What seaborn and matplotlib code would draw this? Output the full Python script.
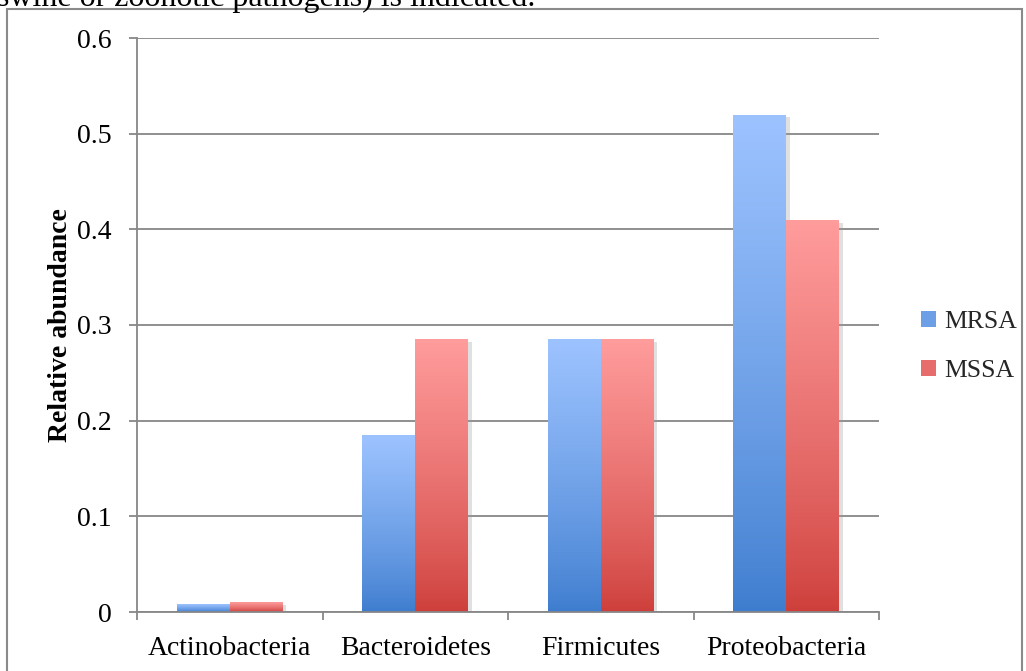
import numpy as np
import pandas as pd
import matplotlib
matplotlib.use("Agg")
import matplotlib.pyplot as plt
import matplotlib.patheffects as pe
from matplotlib.colors import LinearSegmentedColormap
from matplotlib.patches import Rectangle
import seaborn as sns

# Relative abundance of the main phyla by S. aureus group
phyla = ["Actinobacteria", "Bacteroidetes", "Firmicutes", "Proteobacteria"]
groups = ["MRSA", "MSSA"]
mrsa = [0.008, 0.185, 0.285, 0.52]
mssa = [0.010, 0.285, 0.285, 0.41]
yticks = [0, 0.1, 0.2, 0.3, 0.4, 0.5, 0.6]
ytick_labels = ["0", "0.1", "0.2", "0.3", "0.4", "0.5", "0.6"]

df = pd.DataFrame({
    "phylum": phyla * 2,
    "group": [groups[0]] * len(phyla) + [groups[1]] * len(phyla),
    "abundance": mrsa + mssa,
})

# top (light) and bottom (dark) colours of each bar's vertical gradient
grad = {
    "MRSA": ("#9DC3FF", "#3D7CCE"),
    "MSSA": ("#FF9C9C", "#CD3E3A"),
}
mid = {k: LinearSegmentedColormap.from_list(k, v)(0.5) for k, v in grad.items()}

sns.set_theme(style="white")
plt.rcParams["font.family"] = ["Liberation Serif", "DejaVu Serif"]
grid_gray = "#878787"

fig = plt.figure(figsize=(10.26, 6.71), dpi=100)
ax = fig.add_axes([137 / 1026, 59 / 671, 742 / 1026, 574 / 671])

sns.barplot(data=df, x="phylum", y="abundance", hue="group", order=phyla,
            hue_order=groups, palette=mid, width=0.57, gap=0, ax=ax,
            errorbar=None, saturation=1, linewidth=0)

ax.set_ylim(0, 0.6)
ax.set_xlim(-0.5, len(phyla) - 0.5)
ax.set_yticks(yticks)
ax.set_yticklabels(ytick_labels)
ax.set_axisbelow(True)
ax.yaxis.grid(True, color=grid_gray, linewidth=1.3)
ax.xaxis.grid(False)

# shade each bar with a vertical gradient, plus a soft drop shadow
for container, name in zip(ax.containers, groups):
    cmap = LinearSegmentedColormap.from_list(name, [grad[name][1], grad[name][0]])
    for bar in container.patches:
        x0, y0 = bar.get_x(), bar.get_y()
        w, h = bar.get_width(), bar.get_height()
        bar.set_path_effects([
            pe.SimplePatchShadow(offset=(2.5, -2), shadow_rgbFace="#9a9a9a", alpha=0.3),
            pe.Normal(),
        ])
        g = np.linspace(0, 1, 256).reshape(-1, 1) ** 0.8
        im = ax.imshow(g, extent=(x0, x0 + w, y0, y0 + h), origin="lower",
                       cmap=cmap, aspect="auto", zorder=bar.get_zorder() + 0.1,
                       interpolation="bicubic")
        im.set_clip_path(bar)
ax.set_xlim(-0.5, len(phyla) - 0.5)
ax.set_ylim(0, 0.6)

for side in ["top", "right"]:
    ax.spines[side].set_visible(False)
for side in ["left", "bottom"]:
    ax.spines[side].set_color(grid_gray)
    ax.spines[side].set_linewidth(1.3)

ax.tick_params(axis="y", which="major", direction="out", length=6, width=1.3,
               color=grid_gray, left=True, labelsize=20, pad=12)
ax.tick_params(axis="x", which="major", length=0, labelsize=20, pad=17)
ax.set_xticks(np.arange(-0.5, len(phyla)), minor=True)
ax.tick_params(axis="x", which="minor", direction="out", length=6, width=1.3,
               color=grid_gray, bottom=True)
for lab in ax.get_xticklabels() + ax.get_yticklabels():
    lab.set_color("black")

ax.set_xlabel("")
ax.set_ylabel("Relative abundance", fontsize=20, fontweight="bold",
              color="black", labelpad=3)

handles = [Rectangle((0, 0), 1, 1, facecolor=mid[g], edgecolor="none") for g in groups]
ax.legend(handles, groups, loc="center left", bbox_to_anchor=(1.025, 0.463),
          frameon=False, fontsize=18.5, handlelength=0.6, handleheight=0.6,
          handletextpad=0.3, labelspacing=1.05)

# frame around the chart area and the caption line above it
fig.add_artist(Rectangle((7 / 1026, -0.2), 1015 / 1026, 1.2 - 9 / 671,
                         transform=fig.transFigure, facecolor="none",
                         edgecolor="#8a8a8a", linewidth=1.5, clip_on=False))
fig.text(-0.003, 1 - 6 / 671, "swine or zoonotic pathogens) is indicated.",
         fontsize=23, color="black", va="baseline", ha="left")

fig.savefig("out.png", dpi=100)
